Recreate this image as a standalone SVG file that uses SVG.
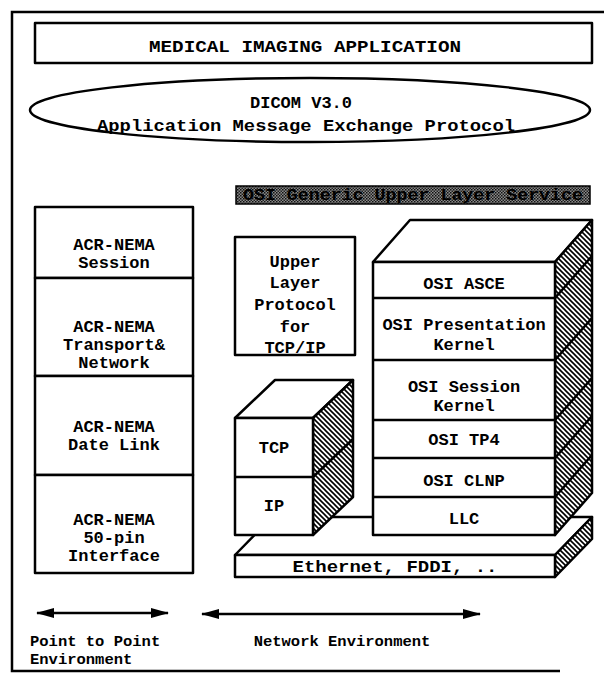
<svg xmlns="http://www.w3.org/2000/svg" width="604" height="673" viewBox="0 0 604 673">
<style>
text{font-family:"Liberation Mono","DejaVu Sans Mono",monospace;font-weight:bold;font-size:17px;fill:#000;text-anchor:middle}
.box{fill:#fff;stroke:#000;stroke-width:2.5;stroke-linejoin:round}
.ln{fill:none;stroke:#000;stroke-width:2.5}
.hatch{fill:url(#hatch);stroke:#000;stroke-width:2.5;stroke-linejoin:round}
.small{font-size:15.5px}
</style>
<defs>
<pattern id="hatch" patternUnits="userSpaceOnUse" width="5" height="5">
<rect width="5" height="5" fill="#fff"/>
<path d="M-1,-1 L6,6 M-1,4 L1,6 M4,-1 L6,1" stroke="#000" stroke-width="1.6"/>
</pattern>
<pattern id="stip" patternUnits="userSpaceOnUse" width="3" height="3">
<rect width="3" height="3" fill="#8a8a8a"/>
<rect width="1.5" height="1.5" fill="#111"/>
<rect x="1.5" y="1.5" width="1.5" height="1.5" fill="#222"/>
</pattern>
<marker id="ah" viewBox="0 0 18 10" refX="17" refY="5" markerWidth="18" markerHeight="10" markerUnits="userSpaceOnUse" orient="auto-start-reverse">
<path d="M0,0 L18,5 L0,10 Z" fill="#000"/>
</marker>
</defs>
<rect width="604" height="673" fill="#fff"/>
<path class="ln" d="M604,12 H12 V671 H560" stroke-width="3"/>

<g id="app">
<rect class="box" x="35" y="23" width="557" height="40"/>
<text x="305" y="52" textLength="312" lengthAdjust="spacingAndGlyphs">MEDICAL IMAGING APPLICATION</text>
</g>

<g id="dicom">
<ellipse class="box" cx="310" cy="110" rx="280" ry="32" stroke-width="3"/>
<text x="301" y="108">DICOM V3.0</text>
<text x="306" y="131" textLength="418" lengthAdjust="spacingAndGlyphs">Application Message Exchange Protocol</text>
</g>

<g id="osi-generic">
<rect x="236" y="186" width="354" height="18" fill="url(#stip)" stroke="#000" stroke-width="1.5"/>
<text x="413" y="200" textLength="340" lengthAdjust="spacingAndGlyphs">OSI Generic Upper Layer Service</text>
</g>

<g id="acr-session">
<rect class="box" x="35" y="207" width="158" height="71"/>
<text x="114" y="250">ACR-NEMA</text>
<text x="114" y="268">Session</text>
</g>
<g id="acr-transport">
<rect class="box" x="35" y="278" width="158" height="98"/>
<text x="114" y="332">ACR-NEMA</text>
<text x="114" y="350">Transport&amp;</text>
<text x="114" y="368">Network</text>
</g>
<g id="acr-datalink">
<rect class="box" x="35" y="376" width="158" height="99"/>
<text x="114" y="432">ACR-NEMA</text>
<text x="114" y="450">Date Link</text>
</g>
<g id="acr-50pin">
<rect class="box" x="35" y="475" width="158" height="98"/>
<text x="114" y="525">ACR-NEMA</text>
<text x="114" y="543">50-pin</text>
<text x="114" y="561">Interface</text>
</g>

<g id="upper-layer-tcpip">
<rect class="box" x="235" y="237" width="120" height="118"/>
<text x="295" y="267">Upper</text>
<text x="295" y="288">Layer</text>
<text x="295" y="310">Protocol</text>
<text x="295" y="332">for</text>
<text x="295" y="353">TCP/IP</text>
</g>

<g id="ethernet">
<path class="box" d="M235,555 L272,517 L592,517 L555,555 Z"/>
<path class="hatch" d="M555,555 L592,517 L592,539 L555,577 Z"/>
<rect class="box" x="235" y="555" width="320" height="22"/>
<text x="395" y="572" textLength="205" lengthAdjust="spacingAndGlyphs">Ethernet, FDDI, ..</text>
</g>

<g id="tcp-ip-stack">
<path class="box" d="M235,418 L275,380 L353,380 L313,418 Z"/>
<path class="hatch" d="M313,418 L353,380 L353,497 L313,535 Z"/>
<path class="ln" d="M313,477 L353,439"/>
<rect class="box" x="235" y="418" width="78" height="117"/>
<path class="ln" d="M235,477 H313"/>
<text x="274" y="453">TCP</text>
<text x="274" y="511">IP</text>
</g>

<g id="osi-stack">
<path class="box" d="M373,262 L410,220 L592,220 L555,262 Z"/>
<path class="hatch" d="M555,262 L592,220 L592,493 L555,535 Z"/>
<path class="ln" d="M555,298 L592,256 M555,360 L592,318 M555,420 L592,378 M555,458 L592,416 M555,497 L592,455"/>
<rect class="box" x="373" y="262" width="182" height="273"/>
<path class="ln" d="M373,298 H555 M373,360 H555 M373,420 H555 M373,458 H555 M373,497 H555"/>
<text x="464" y="289">OSI ASCE</text>
<text x="464" y="330">OSI Presentation</text>
<text x="464" y="350">Kernel</text>
<text x="464" y="392">OSI Session</text>
<text x="464" y="411">Kernel</text>
<text x="464" y="445">OSI TP4</text>
<text x="464" y="486">OSI CLNP</text>
<text x="464" y="524">LLC</text>
</g>

<g id="connectors">
<line class="ln" x1="37" y1="613" x2="168" y2="613" marker-start="url(#ah)" marker-end="url(#ah)"/>
<line class="ln" x1="202" y1="614" x2="480" y2="614" marker-start="url(#ah)" marker-end="url(#ah)"/>
</g>

<g id="labels">
<text class="small" x="30" y="646" style="text-anchor:start">Point to Point</text>
<text class="small" x="30" y="664" style="text-anchor:start">Environment</text>
<text class="small" x="342" y="646">Network Environment</text>
</g>
</svg>
